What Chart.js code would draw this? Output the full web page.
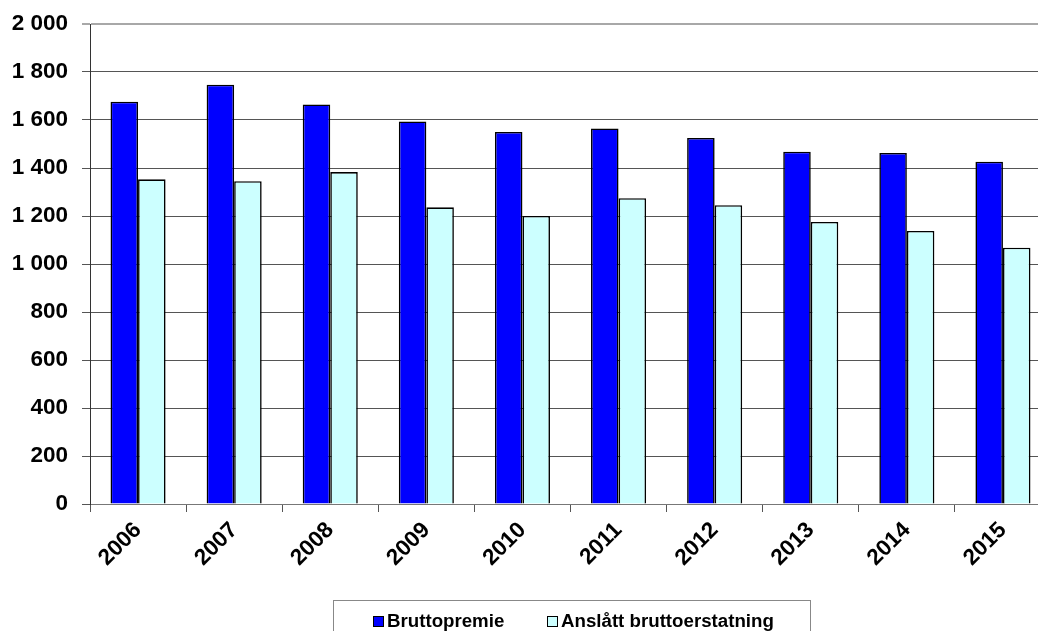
<!DOCTYPE html>
<html>
<head>
<meta charset="utf-8">
<script src="https://cdn.jsdelivr.net/npm/chart.js@4/dist/chart.umd.min.js"></script>
<style>
  html, body { margin: 0; padding: 0; background: #fff; overflow: hidden; width: 1038px; height: 631px; }
  #wrap { position: absolute; left: 0; top: 0; width: 1052px; height: 631px; }
  #legend { position: absolute; left: 333px; top: 600px; width: 478px; height: 60px; border: 1px solid #888; box-sizing: border-box;
    font: bold 18.7px "Liberation Sans", Arial, sans-serif; color: #000; }
  .item { position: absolute; top: 9px; height: 22px; display: flex; align-items: center; white-space: nowrap; }
  .sw { width: 9px; height: 9px; border: 1px solid #000; margin-right: 3px; }
</style>
</head>
<body>
<div id="wrap"><canvas id="c" width="1052" height="631"></canvas></div>
<div id="legend"></div>
<script>
const categories = ["2006","2007","2008","2009","2010","2011","2012","2013","2014","2015"];
const seriesNames = ["Bruttopremie", "Anslått bruttoerstatning"];
const bruttopremie = [1676, 1747, 1665, 1594, 1550, 1565, 1525, 1468, 1463, 1426];
const bruttoerstatning = [1353, 1345, 1383, 1236, 1200, 1274, 1245, 1175, 1138, 1068];
const yTicks = [0, 200, 400, 600, 800, 1000, 1200, 1400, 1600, 1800, 2000];
const colors = ["#0000FF", "#CCFFFF"];

const fontSpec = { family: '"Liberation Sans", Arial, sans-serif', size: 22.5, weight: 'bold' };

const chart = new Chart(document.getElementById('c'), {
  type: 'bar',
  data: {
    labels: categories,
    datasets: [
      { label: seriesNames[0], data: bruttopremie, backgroundColor: colors[0], borderColor: '#000', borderWidth: 1.6,
        categoryPercentage: 0.573, barPercentage: 1 },
      { label: seriesNames[1], data: bruttoerstatning, backgroundColor: colors[1], borderColor: '#000', borderWidth: 1.6,
        categoryPercentage: 0.573, barPercentage: 1 }
    ]
  },
  options: {
    responsive: false,
    animation: false,
    devicePixelRatio: 1,
    layout: { padding: { top: 24, right: 1, left: 0, bottom: 0 } },
    plugins: { legend: { display: false }, tooltip: { enabled: false } },
    scales: {
      x: {
        grid: { display: true, drawOnChartArea: false, offset: true, tickLength: 8, color: '#555', lineWidth: 1 },
        border: { color: '#777', width: 1 },
        ticks: { color: '#000', font: fontSpec, maxRotation: 45, minRotation: 45, padding: 5 },
        afterFit: s => { s.height = 127; s.paddingLeft = 0; s.paddingRight = 0; }
      },
      y: {
        min: 0, max: 2000,
        afterBuildTicks: s => { s.ticks = yTicks.map(v => ({ value: v })); },
        grid: {
          tickLength: 8,
          color: ctx => (ctx.tick && ctx.tick.value === 2000) ? '#a8a8a8' : '#555',
          lineWidth: ctx => (ctx.tick && ctx.tick.value === 2000) ? 2 : 1
        },
        border: { color: '#333', width: 1 },
        ticks: {
          color: '#000', font: fontSpec, padding: 14,
          callback: v => String(v).replace(/\B(?=(\d{3})+(?!\d))/g, ' ')
        },
        afterFit: s => { s.width = 90; s.paddingTop = 0; s.paddingBottom = 0; }
      }
    }
  }
});

// HTML legend from dataset info
const lg = document.getElementById('legend');
const lefts = [39, 213];
seriesNames.forEach((n, i) => {
  const d = document.createElement('div');
  d.className = 'item';
  d.style.left = lefts[i] + 'px';
  const sw = document.createElement('span');
  sw.className = 'sw';
  sw.style.background = colors[i];
  d.appendChild(sw);
  d.appendChild(document.createTextNode(n));
  lg.appendChild(d);
});
</script>
</body>
</html>
